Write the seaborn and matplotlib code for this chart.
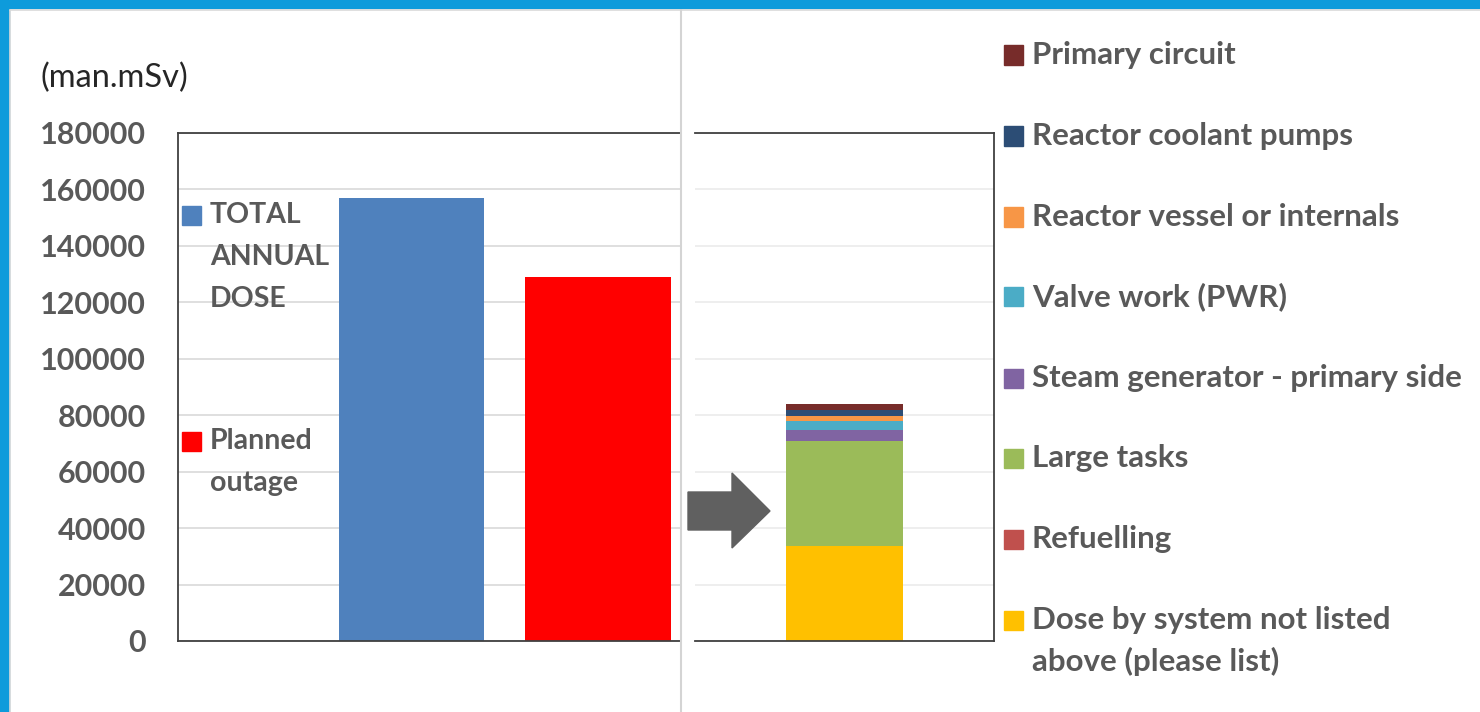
import matplotlib
matplotlib.use("Agg")
import matplotlib.pyplot as plt
import seaborn as sns
import pandas as pd
from matplotlib.patches import Rectangle, Polygon
from matplotlib.lines import Line2D

# ---------------- data ----------------
left_categories = ["TOTAL ANNUAL DOSE", "Planned outage"]
left_labels = ["TOTAL\nANNUAL\nDOSE", "Planned\noutage"]
left_values = [157000, 129000]
left_colors = ["#4F81BD", "#FF0000"]

stack_categories = [
    "Dose by system not listed above (please list)",
    "Refuelling",
    "Large tasks",
    "Steam generator - primary side",
    "Valve work (PWR)",
    "Reactor vessel or internals",
    "Reactor coolant pumps",
    "Primary circuit",
]
stack_labels = [
    "Dose by system not listed\nabove (please list)",
    "Refuelling",
    "Large tasks",
    "Steam generator - primary side",
    "Valve work (PWR)",
    "Reactor vessel or internals",
    "Reactor coolant pumps",
    "Primary circuit",
]
stack_values = [33700, 0, 37000, 4200, 3000, 1900, 2000, 2100]
stack_colors = ["#FFC000", "#C0504D", "#9BBB59", "#8064A2",
                "#4BACC6", "#F79646", "#2C4D75", "#772C2A"]

y_ticks = [0, 20000, 40000, 60000, 80000, 100000, 120000, 140000, 160000, 180000]
y_unit = "(man.mSv)"

# ---------------- style ----------------
sns.set_theme(style="white")
plt.rcParams["font.family"] = ["Lato", "DejaVu Sans"]
TXT = "#595959"

W, H = 1480, 712
fig = plt.figure(figsize=(W / 100, H / 100), dpi=100)
fig.patch.set_facecolor("white")

def fx(x):
    return x / W

def fy(y):
    return 1 - y / H

# frame
fig.patches.append(Rectangle((0, fy(8)), 1, 8 / H, transform=fig.transFigure,
                             color="#0E9BDB", zorder=0))
fig.patches.append(Rectangle((0, 0), 9 / W, 1, transform=fig.transFigure,
                             color="#0E9BDB", zorder=0))
fig.lines.append(Line2D([fx(9.5), 1], [fy(9.5), fy(9.5)], transform=fig.transFigure,
                        color="#D9D9D9", lw=1.2))
fig.lines.append(Line2D([fx(9.5), fx(9.5)], [0, fy(9.5)], transform=fig.transFigure,
                        color="#D9D9D9", lw=1.2))

# ---------------- left panel ----------------
top, bot = 133, 641
axL = fig.add_axes([fx(178), fy(bot), fx(680) - fx(178), (bot - top) / H])
dfL = pd.DataFrame({"cat": left_categories, "val": left_values})
sns.barplot(data=dfL, x="cat", y="val", hue="cat", palette=left_colors,
            width=0.78, saturation=1, legend=False, linewidth=0, ax=axL)
axL.set_xlim(-1.252, 1.44)
axL.set_ylim(0, 180000)
axL.set_yticks(y_ticks)
axL.set_yticklabels([str(v) for v in y_ticks])
axL.tick_params(axis="y", length=0, pad=23, labelsize=22, labelcolor=TXT)
for t in axL.get_yticklabels():
    t.set_fontweight("bold")
axL.set_xticks([])
axL.set_xlabel("")
axL.set_ylabel("")
axL.grid(axis="y", color="#D9D9D9", lw=1.2)
axL.set_axisbelow(True)
for s in ["left", "top", "bottom"]:
    axL.spines[s].set_color("#404040")
    axL.spines[s].set_linewidth(1.3)
axL.spines["right"].set_visible(False)

# ---------------- right panel ----------------
axR = fig.add_axes([fx(695), fy(bot), fx(994) - fx(695), (bot - top) / H])
bottom = 0
for cat, v, c in zip(stack_categories, stack_values, stack_colors):
    axR.bar(0, v, bottom=bottom, width=0.393, color=c, label=cat, linewidth=0)
    bottom += v
axR.set_xlim(-0.5, 0.5)
axR.set_ylim(0, 180000)
axR.set_yticks(y_ticks)
axR.set_yticklabels([])
axR.tick_params(length=0)
axR.set_xticks([])
axR.grid(axis="y", color="#EBEBEB", lw=1.2)
axR.set_axisbelow(True)
for s in ["right", "top", "bottom"]:
    axR.spines[s].set_color("#404040")
    axR.spines[s].set_linewidth(1.3)
axR.spines["left"].set_visible(False)

# separator line
fig.lines.append(Line2D([fx(680.5), fx(680.5)], [0, fy(10)], transform=fig.transFigure,
                        color="#D4D4D4", lw=1.5))

# arrow
arrow_pts = [(688, 492), (732, 492), (732, 473), (770, 511), (732, 548), (732, 530), (688, 530)]
fig.patches.append(Polygon([(fx(x), fy(y)) for x, y in arrow_pts], closed=True,
                           transform=fig.transFigure, color="#606060", zorder=5))

# unit label
fig.text(fx(41), fy(78), y_unit, fontsize=23.5, color="#262626", va="center", ha="left")

# ---------------- legends ----------------
def legend_item(x_marker, y_center, size, color, text, line_gap, fs):
    fig.patches.append(Rectangle((fx(x_marker), fy(y_center + size / 2)), size / W, size / H,
                                 transform=fig.transFigure, color=color, zorder=5))
    lines = text.split("\n")
    for i, ln in enumerate(lines):
        fig.text(fx(x_marker + size + 9), fy(y_center + i * line_gap), ln,
                 fontsize=fs, fontweight="bold", color=TXT, va="center", ha="left",
                 zorder=10)

left_y = [215, 441]
for lab, col, yc in zip(left_labels, left_colors, left_y):
    legend_item(182, yc, 19, col, lab, 42, 20.5)

right_y = [620, 539, 458, 378, 297, 217, 136, 55]
for lab, col, yc in zip(stack_labels, stack_colors, right_y):
    legend_item(1004, yc, 19, col, lab, 41, 22.5)

fig.savefig("out.png", dpi=100, facecolor="white")
